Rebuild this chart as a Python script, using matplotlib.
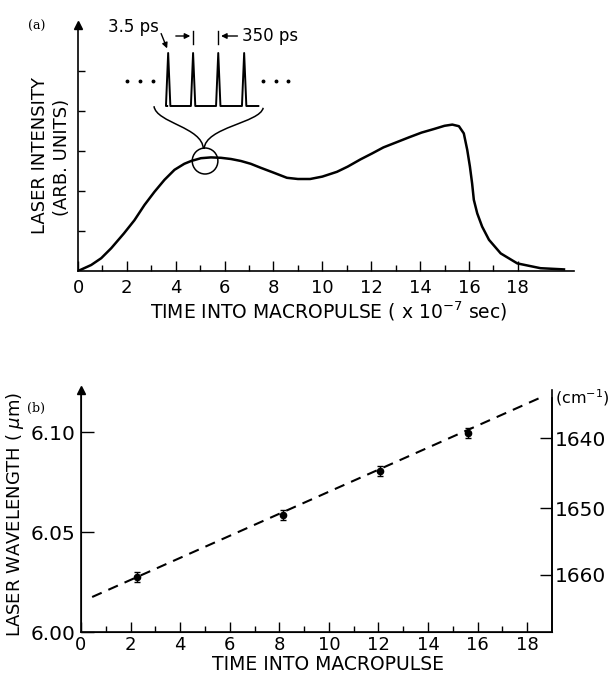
import matplotlib
matplotlib.use('Agg')
import matplotlib.pyplot as plt
from matplotlib.patches import Ellipse, PathPatch
from matplotlib.path import Path

plt.rcParams['font.family'] = ['DejaVu Sans']

# (a) laser intensity through the macropulse (x 1e-7 s, arb. units)
t_pulse = [0, 0.54, 0.95, 1.36, 1.88, 2.31, 2.72, 3.13, 3.54, 3.95, 4.35, 4.63,
           5.03, 5.44, 5.85, 6.26, 6.67, 7.07, 7.48, 8.0, 8.55, 9.0, 9.5, 10.0,
           10.6, 11.04, 11.56, 12.04, 12.5, 13.0, 13.54, 14.06, 14.57, 15.0,
           15.32, 15.59, 15.79, 15.93, 16.04, 16.13, 16.2, 16.34, 16.54, 16.82,
           17.3, 17.98, 18.93, 19.89]
intensity = [0, 0.15, 0.32, 0.57, 0.94, 1.27, 1.65, 1.98, 2.28, 2.53, 2.68, 2.75,
             2.82, 2.84, 2.83, 2.8, 2.75, 2.68, 2.58, 2.46, 2.33, 2.30, 2.30, 2.36,
             2.48, 2.61, 2.79, 2.94, 3.09, 3.21, 3.34, 3.46, 3.55, 3.63,
             3.66, 3.62, 3.44, 3.03, 2.61, 2.19, 1.78, 1.44, 1.11, 0.78,
             0.44, 0.19, 0.07, 0.04]

# micropulse train sketch (positions in units of panel a)
micro_t = [3.69, 4.71, 5.74, 6.80]

# (b) wavelength vs time
t_meas = [2.27, 8.15, 12.07, 15.6]
wavelength = [6.0275, 6.0585, 6.0805, 6.0995]
wl_err = [0.0025, 0.0025, 0.0025, 0.0025]
fit_t = [0.45, 18.5]
fit_wl = [6.0175, 6.117]
wn_labels = ['1640', '1650', '1660']
wn_pos = [6.097, 6.062, 6.0285]

fig = plt.figure(figsize=(6.1, 6.79), dpi=100)

# ---------------- panel (a) ----------------
ax1 = fig.add_axes([78/610, 1-271/679, (574-78)/610, (271-25)/679])
ax1.plot(t_pulse, intensity, color='black', lw=1.8)
ax1.set_xlim(0, 20.3)
ax1.set_ylim(0, 6.15)
for s in ['top', 'right']:
    ax1.spines[s].set_visible(False)
ax1.spines['left'].set_linewidth(1.2)
ax1.spines['bottom'].set_linewidth(1.2)
ax1.set_xticks(range(0, 19, 2))
ax1.set_xticks(range(1, 19, 2), minor=True)
ax1.set_yticks([1, 2, 3, 4, 5])
ax1.set_yticklabels([])
ax1.tick_params(axis='x', which='major', direction='in', length=7, width=1, labelsize=13, pad=6)
ax1.tick_params(axis='x', which='minor', direction='in', length=4, width=1)
ax1.tick_params(axis='y', direction='in', length=5, width=1)
ax1.plot(0, 1, marker='^', color='black', markersize=6, transform=ax1.transAxes, clip_on=False)

# micropulse inset
base_y, peak_y, hw = 4.125, 5.45, 0.09
xs = [3.65]
ys = [base_y]
for m in micro_t:
    xs += [m - hw, m, m + hw]
    ys += [base_y, peak_y, base_y]
xs.append(7.38)
ys.append(base_y)
ax1.plot(xs, ys, color='black', lw=1.4, clip_on=False)
for dx in [2.0, 2.54, 3.07, 7.58, 8.11, 8.6]:
    ax1.plot(dx, 4.75, marker='o', color='black', markersize=1.8)

# brace down to circle
verts_l = [(3.11, 4.12), (3.2, 3.7), (5.1, 3.6), (5.13, 3.05)]
verts_r = [(7.58, 4.08), (7.45, 3.7), (5.2, 3.6), (5.16, 3.05)]
codes = [Path.MOVETO, Path.CURVE4, Path.CURVE4, Path.CURVE4]
for v in [verts_l, verts_r]:
    ax1.add_patch(PathPatch(Path(v, codes), fill=False, lw=1.1, color='black'))
ax1.add_patch(Ellipse((5.2, 2.75), 1.05, 0.65, fill=False, lw=1.1, color='black'))

# pulse labels
ax1.text(2.27, 6.1, '3.5 ps', ha='center', va='center', fontsize=12, clip_on=False)
ax1.annotate('', xy=(3.69, 5.5), xytext=(3.36, 6.0),
             arrowprops=dict(arrowstyle='-|>', color='black', lw=1, mutation_scale=8),
             annotation_clip=False)
ax1.annotate('', xy=(4.71, 5.875), xytext=(3.89, 5.875),
             arrowprops=dict(arrowstyle='-|>', color='black', lw=1, mutation_scale=8),
             annotation_clip=False)
ax1.annotate('', xy=(5.74, 5.875), xytext=(6.64, 5.875),
             arrowprops=dict(arrowstyle='-|>', color='black', lw=1, mutation_scale=8),
             annotation_clip=False)
ax1.plot([4.71, 4.71], [5.675, 6.0], color='black', lw=1, clip_on=False)
ax1.plot([5.74, 5.74], [5.675, 6.0], color='black', lw=1, clip_on=False)
ax1.text(6.72, 5.875, '350 ps', ha='left', va='center', fontsize=12, clip_on=False)

fig.text(40/610, 1-156/679, 'LASER INTENSITY', rotation=90, ha='center', va='center', fontsize=13)
fig.text(62/610, 1-157/679, '(ARB. UNITS)', rotation=90, ha='center', va='center', fontsize=13)
fig.text(329/610, 1-311/679, 'TIME INTO MACROPULSE ( x 10$^{-7}$ sec)', ha='center', va='center', fontsize=13.5)
fig.text(37/610, 1-26/679, '(a)', ha='center', va='center', fontsize=9, family='DejaVu Serif')

# ---------------- panel (b) ----------------
ax2 = fig.add_axes([81/610, 1-632/679, (552-81)/610, (632-390)/679])
ax2.plot(fit_t, fit_wl, color='black', lw=1.5, linestyle=(0, (5, 3.5)))
ax2.errorbar(t_meas, wavelength, yerr=wl_err, fmt='o', color='black', markersize=4.5,
             capsize=2.5, elinewidth=1, capthick=1)
ax2.set_xlim(0, 19.0)
ax2.set_ylim(6.00, 6.121)
ax2.spines['top'].set_visible(False)
for s in ['left', 'bottom', 'right']:
    ax2.spines[s].set_linewidth(1.2)
ax2.set_xticks(range(0, 19, 2))
ax2.set_xticks(range(1, 19, 2), minor=True)
ax2.set_yticks([6.00, 6.05, 6.10])
ax2.set_yticklabels(['6.00', '6.05', '6.10'])
ax2.tick_params(axis='x', which='major', direction='in', length=7, width=1, labelsize=13, pad=3)
ax2.tick_params(axis='x', which='minor', direction='in', length=4, width=1)
ax2.tick_params(axis='y', direction='in', length=9, width=1, labelsize=14.5, pad=4)
ax2.plot(0, 1, marker='^', color='black', markersize=6, transform=ax2.transAxes, clip_on=False)

ax3 = ax2.twinx()
ax3.set_ylim(ax2.get_ylim())
ax3.set_yticks(wn_pos)
ax3.set_yticklabels(wn_labels)
ax3.tick_params(axis='y', direction='in', length=9, width=1, labelsize=14.5, pad=2)
ax3.spines['top'].set_visible(False)
ax3.spines['right'].set_linewidth(1.2)
ax3.spines['right'].set_bounds(6.00, 6.117)

fig.text(555/610, 1-398/679, '(cm$^{-1}$)', ha='left', va='center', fontsize=11.5)
fig.text(15/610, 1-514/679, r'LASER WAVELENGTH ( $\mu$m)', rotation=90, ha='center', va='center', fontsize=13)
fig.text(328/610, 1-665/679, 'TIME INTO MACROPULSE', ha='center', va='center', fontsize=13.5)
fig.text(36/610, 1-408/679, '(b)', ha='center', va='center', fontsize=9, family='DejaVu Serif')

fig.savefig('out.png', dpi=100)
